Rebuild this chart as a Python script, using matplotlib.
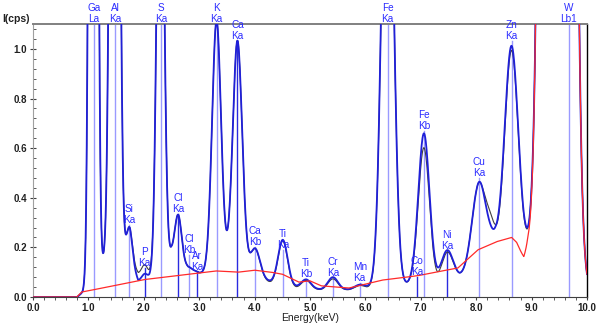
import matplotlib
import matplotlib.pyplot as plt
import numpy as np
from matplotlib.ticker import MultipleLocator, FormatStrFormatter

matplotlib.use("Agg")

plt.rcParams["font.family"] = ["Liberation Sans", "DejaVu Sans"]

# element lines: label, energy (keV), marker height (cps), dark marker?
LINE_NAMES = ["Ga\nLa", "Al\nKa", "Si\nKa", "P\nKa", "S\nKa", "Cl\nKa", "Cl\nKb", "Ar\nKa",
              "K\nKa", "Ca\nKa", "Ca\nKb", "Ti\nKa", "Ti\nKb", "Cr\nKa", "Mn\nKa", "Fe\nKa",
              "Co\nKa", "Fe\nKb", "Ni\nKa", "Cu\nKa", "Zn\nKa", "W\nLb1"]
LINE_E = [1.098, 1.486, 1.740, 2.013, 2.307, 2.622, 2.815, 2.957,
          3.313, 3.691, 4.012, 4.510, 4.931, 5.414, 5.898, 6.403,
          6.930, 7.057, 7.477, 8.047, 8.638, 9.672]
LINE_H = [2.0, 2.0, 0.29, 0.115, 2.0, 0.335, 0.17, 0.10,
          2.0, 1.03, 0.20, 0.19, 0.073, 0.077, 0.056, 2.0,
          0.08, 0.67, 0.185, 0.48, 1.03, 2.0]
LINE_DARK = [0, 0, 0, 1, 0, 1, 0, 1,
             0, 1, 0, 0, 0, 0, 0, 0,
             1, 0, 1, 0, 0, 0]

# fitted peaks: energy, sigma, amplitude (blue fit), amplitude (black measured)
PEAK_E = [1.090, 1.475, 1.740, 2.013, 2.300, 2.622, 2.815, 2.957, 3.313, 3.691,
          4.012, 4.510, 4.931, 5.414, 5.898, 6.400, 6.930, 7.057, 7.477, 8.047,
          8.260, 8.638, 9.470]
PEAK_S = [0.050, 0.062, 0.052, 0.050, 0.060, 0.062, 0.060, 0.060, 0.080, 0.085,
          0.085, 0.085, 0.085, 0.090, 0.090, 0.100, 0.100, 0.100, 0.105, 0.120,
          0.080, 0.120, 0.150]
PEAK_BLUE = [10.0, 6.0, 0.13, 0.02, 2.2, 0.19, 0.02, 0.01, 1.0, 0.92,
             0.11, 0.18, 0.035, 0.05, 0.015, 2.2, 0.01, 0.60, 0.12, 0.33,
             0.03, 0.82, 32.0]
PEAK_BLACK = [10.0, 6.0, 0.13, 0.035, 2.2, 0.19, 0.02, 0.01, 1.0, 0.92,
              0.11, 0.18, 0.035, 0.045, 0.015, 2.2, 0.01, 0.55, 0.12, 0.33,
              0.10, 0.82, 32.0]

# continuum under the peaks
CONT_E = [0.0, 0.8, 0.9, 1.0, 1.3, 1.6, 1.75, 1.9, 2.1, 2.5, 2.8, 3.0, 3.5, 3.85,
          4.3, 4.75, 5.2, 5.7, 6.1, 6.8, 7.3, 7.7, 8.0, 8.35, 8.85, 9.0, 10.0]
CONT_BLUE = [0.0, 0.0, 0.02, 0.06, 0.145, 0.17, 0.15, 0.065, 0.08, 0.17, 0.10, 0.09, 0.13, 0.10,
             0.06, 0.04, 0.03, 0.03, 0.04, 0.05, 0.06, 0.08, 0.12, 0.21, 0.18, 0.20, 0.03]
CONT_BLACK = [0.0, 0.0, 0.02, 0.06, 0.145, 0.17, 0.15, 0.095, 0.095, 0.17, 0.10, 0.09, 0.13, 0.10,
              0.055, 0.035, 0.028, 0.028, 0.035, 0.05, 0.045, 0.08, 0.12, 0.18, 0.17, 0.20, 0.03]

# background (red)
BG_E = [0.0, 0.79, 0.88, 1.0, 2.0, 2.95, 3.3, 3.7, 4.0, 4.3, 4.5, 4.8, 5.0, 5.2, 5.5, 5.7,
        6.0, 6.3, 6.6, 6.95, 7.22, 7.67, 8.03, 8.37, 8.64, 8.73, 8.86, 8.93, 10.0]
BG_I = [0.0, 0.0, 0.02, 0.025, 0.07, 0.095, 0.105, 0.10, 0.108, 0.10, 0.092, 0.06, 0.065, 0.045,
        0.04, 0.036, 0.052, 0.068, 0.076, 0.086, 0.098, 0.117, 0.19, 0.223, 0.24, 0.22, 0.155,
        0.19, 0.03]

energy = np.linspace(0, 10, 2001)


def spectrum(cont, amps):
    y = np.interp(energy, CONT_E, cont)
    for e0, s, a in zip(PEAK_E, PEAK_S, amps):
        y = y + a * np.exp(-0.5 * ((energy - e0) / s) ** 2)
    return y


blue = spectrum(CONT_BLUE, PEAK_BLUE)
black = spectrum(CONT_BLACK, PEAK_BLACK)
red = np.interp(energy, BG_E, BG_I) + PEAK_BLUE[-1] * np.exp(-0.5 * ((energy - PEAK_E[-1]) / PEAK_S[-1]) ** 2)

fig = plt.figure(figsize=(6.0, 3.26), dpi=100)
ax = fig.add_axes([0.055, 0.089, 0.9233, 0.837])
ymax = 1.1

for e, h, dark in zip(LINE_E, LINE_H, LINE_DARK):
    ax.plot([e, e], [0, min(h, ymax)], color="#2a2ae0" if dark else "#9a9aff", lw=1.0, zorder=1)

ax.plot(energy, black, color="#404040", lw=0.8, zorder=2)
ax.plot(energy, blue, color="#2020d8", lw=1.3, zorder=3)
ax.plot(energy, red, color="#ff2a2a", lw=0.9, zorder=4)

for name, e, h in zip(LINE_NAMES, LINE_E, LINE_H):
    ax.text(e, min(h, ymax), name, color="#2b2bff", fontsize=7.2, ha="center", va="bottom",
            linespacing=1.15, clip_on=False, zorder=5)

ax.set_xlim(0, 10)
ax.set_ylim(0, ymax)
ax.xaxis.set_major_locator(MultipleLocator(1.0))
ax.xaxis.set_minor_locator(MultipleLocator(0.2))
ax.yaxis.set_major_locator(MultipleLocator(0.2))
ax.yaxis.set_minor_locator(MultipleLocator(0.04))
ax.xaxis.set_major_formatter(FormatStrFormatter("%.1f"))
ax.yaxis.set_major_formatter(FormatStrFormatter("%.1f"))
ax.tick_params(axis="x", which="major", direction="out", length=2.5, width=0.8, color="#404040",
               labelsize=7, pad=1.5, labelcolor="#202020")
ax.tick_params(axis="x", which="minor", direction="out", length=2.0, width=0.6, color="#404040")
ax.tick_params(axis="y", which="major", direction="inout", length=5, width=0.8, color="#404040",
               labelsize=7, pad=2, labelcolor="#202020")
ax.tick_params(axis="y", which="minor", direction="in", length=2.5, width=0.6, color="#404040")
for lab in ax.get_xticklabels() + ax.get_yticklabels():
    lab.set_fontweight("bold")

ax.spines["top"].set_color("#808080")
ax.spines["top"].set_linewidth(1.4)
ax.spines["right"].set_color("#000000")
ax.spines["right"].set_linewidth(1.0)
ax.spines["left"].set_color("#a0a0a0")
ax.spines["left"].set_linewidth(0.8)
ax.spines["bottom"].set_color("#404040")
ax.spines["bottom"].set_linewidth(0.8)

ax.set_xlabel("Energy(keV)", fontsize=7.5, color="#202020")
ax.xaxis.set_label_coords(0.5, -0.058)
ax.text(-0.005, 1.0, "I(cps)", transform=ax.transAxes, ha="right", va="bottom",
        fontsize=7.5, color="#202020", fontweight="bold")

fig.savefig("out.png", dpi=100)
